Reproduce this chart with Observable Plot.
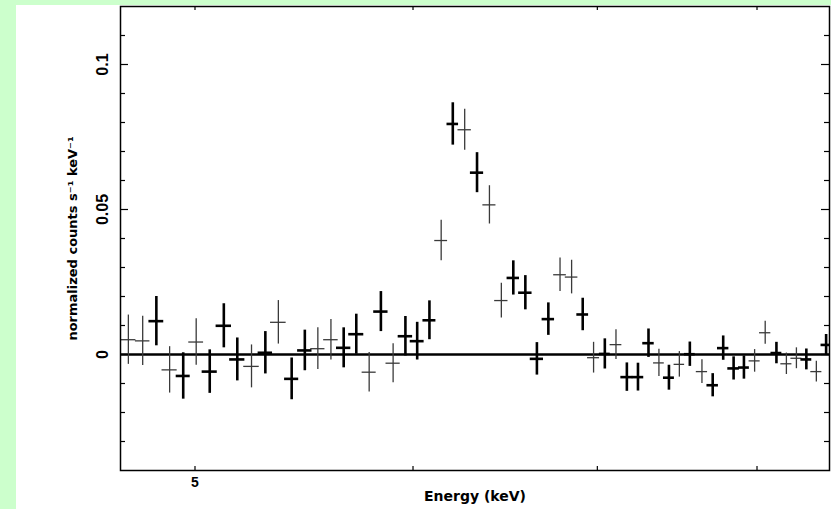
<!DOCTYPE html>
<html><head><meta charset="utf-8">
<script src="https://cdn.jsdelivr.net/npm/d3@7"></script>
<script src="https://cdn.jsdelivr.net/npm/@observablehq/plot@0.6"></script>
<style>
html,body{margin:0;padding:0;background:#ccffcc;width:831px;height:509px;overflow:hidden}
#panel{position:absolute;left:16px;top:5px;width:815px;height:504px;background:#fff}
svg{display:block}
</style></head><body><div id="panel"></div>
<script>
// Energy bin centres (keV), half-widths (keV), flux, 1-sigma error, dataset
const energy = [4.729,4.786,4.841,4.895,4.951,5.005,5.062,5.122,5.180,5.242,5.303,5.361,5.421,5.481,5.541,5.602,5.662,5.722,5.784,5.841,5.901,5.962,6.021,6.083,6.143,6.203,6.265,6.330,6.396,6.460,6.525,6.591,6.655,6.719,6.785,6.851,6.915,6.978,7.044,7.110,7.175,7.242,7.306,7.370,7.432,7.497,7.563,7.640,7.709,7.777,7.845,7.913,7.984,8.055,8.131,8.199,8.268,8.337,8.407,8.476];
const halfWidth = [0.030,0.029,0.030,0.031,0.029,0.031,0.032,0.033,0.033,0.034,0.032,0.035,0.032,0.033,0.033,0.034,0.034,0.036,0.034,0.035,0.035,0.036,0.035,0.033,0.033,0.030,0.035,0.035,0.035,0.036,0.034,0.037,0.037,0.035,0.036,0.036,0.034,0.035,0.032,0.035,0.036,0.035,0.035,0.033,0.034,0.033,0.034,0.036,0.037,0.037,0.038,0.036,0.037,0.038,0.037,0.038,0.038,0.038,0.039,0.036];
const flux = [0.0051,0.0047,0.0115,-0.0053,-0.0074,0.0043,-0.0059,0.0099,-0.0017,-0.0041,0.0006,0.0111,-0.0084,0.0014,0.0020,0.0051,0.0023,0.0070,-0.0061,0.0148,-0.0030,0.0063,0.0046,0.0118,0.0393,0.0795,0.0775,0.0627,0.0516,0.0186,0.0264,0.0213,-0.0015,0.0122,0.0275,0.0267,0.0138,-0.0011,0.0002,0.0034,-0.0078,-0.0078,0.0039,-0.0029,-0.0080,-0.0034,0.0001,-0.0059,-0.0106,0.0022,-0.0048,-0.0045,-0.0022,0.0075,0.0005,-0.0032,-0.0013,-0.0017,-0.0059,0.0033];
const fluxErr = [0.0085,0.0085,0.0085,0.0080,0.0080,0.0080,0.0075,0.0076,0.0074,0.0074,0.0073,0.0075,0.0072,0.0070,0.0072,0.0070,0.0069,0.0069,0.0068,0.0069,0.0067,0.0068,0.0065,0.0067,0.0070,0.0073,0.0071,0.0069,0.0066,0.0060,0.0059,0.0059,0.0056,0.0056,0.0058,0.0058,0.0056,0.0053,0.0052,0.0051,0.0049,0.0048,0.0049,0.0047,0.0043,0.0044,0.0042,0.0041,0.0040,0.0042,0.0040,0.0040,0.0039,0.0040,0.0037,0.0037,0.0036,0.0036,0.0036,0.0036];
const dataset = ["B","B","A","B","A","B","A","A","A","B","A","B","A","A","B","B","A","A","B","A","B","A","A","A","B","A","B","A","B","B","A","A","A","A","B","B","A","B","A","B","A","A","A","B","A","B","A","B","A","A","A","A","B","B","A","B","B","A","B","A"];

const xMajorTicks = [5, 6, 7, 8];
const xTickLabels = [5];
const yTickLabels = [0, 0.05, 0.1];
const yMinorTicks = [-0.03,-0.02,-0.01,0.01,0.02,0.03,0.04,0.06,0.07,0.08,0.09,0.11];
const xLabel = "Energy (keV)";
const yLabel = "normalized counts s\u207B\u00B9 keV\u207B\u00B9";

const W = 815, H = 504, mL = 104, mR = 2, mT = 1, mB = 39;
const pw = W - mL - mR, ph = H - mT - mB;

const rows = energy.map((e, i) => ({e, hw: halfWidth[i], v: flux[i], err: fluxErr[i], set: dataset[i]}));
const style = {A: {stroke: "#000", sw: 2.6}, B: {stroke: "#3a3a3a", sw: 1.3}};

function errBars(set) {
  const data = rows.filter(d => d.set === set);
  const s = style[set];
  return [
    Plot.ruleX(data, {x: "e", y1: d => d.v - d.err, y2: d => d.v + d.err, stroke: s.stroke, strokeWidth: s.sw, clip: true}),
    Plot.ruleY(data, {y: "v", x1: d => d.e - d.hw, x2: d => d.e + d.hw, stroke: s.stroke, strokeWidth: s.sw, clip: true})
  ];
}
const font = {fontFamily: "DejaVu Sans", fontWeight: "bold", fill: "#000"};
const tickFont = {fontFamily: "Liberation Sans", fontWeight: "bold", fill: "#000"};

const chart = Plot.plot({
  width: W, height: H,
  marginLeft: mL, marginRight: mR, marginTop: mT, marginBottom: mB,
  x: {type: "log", domain: [4.698, 8.5], axis: null},
  y: {domain: [-0.04, 0.12], axis: null},
  style: {background: "transparent", overflow: "visible"},
  marks: [
    Plot.ruleY([0], {stroke: "#000", strokeWidth: 2.6}),
    ...errBars("B"),
    ...errBars("A"),
    // inward ticks, left & right
    Plot.tickY(yMinorTicks, {y: d => d, insetRight: pw - 5, stroke: "#000", strokeWidth: 1.2}),
    Plot.tickY(yTickLabels, {y: d => d, insetRight: pw - 8, stroke: "#000", strokeWidth: 1.2}),
    Plot.tickY(yMinorTicks, {y: d => d, insetLeft: pw - 5, stroke: "#000", strokeWidth: 1.2}),
    Plot.tickY(yTickLabels, {y: d => d, insetLeft: pw - 8, stroke: "#000", strokeWidth: 1.2}),
    // inward ticks, bottom & top
    Plot.tickX(xMajorTicks, {x: d => d, insetTop: ph - 4, stroke: "#000", strokeWidth: 1.2}),
    Plot.tickX(xMajorTicks, {x: d => d, insetBottom: ph - 4, stroke: "#000", strokeWidth: 1.2}),
    Plot.frame({stroke: "#000", strokeWidth: 1.5}),
    // tick labels
    Plot.text(yTickLabels, {y: d => d, text: d => String(d), frameAnchor: "left", textAnchor: "middle", dx: -18, rotate: -90, fontSize: 16, ...tickFont}),
    Plot.text(xTickLabels, {x: d => d, text: d => String(d), frameAnchor: "bottom", dy: 16, fontSize: 14, ...tickFont}),
    // axis labels
    Plot.text([xLabel], {text: d => d, frameAnchor: "bottom", textAnchor: "middle", dy: 30, fontSize: 14, ...font}),
    Plot.text([yLabel], {text: d => d, frameAnchor: "left", textAnchor: "middle", dx: -48, rotate: -90, fontSize: 13, ...font})
  ]
});
document.getElementById("panel").appendChild(chart);
</script>
</body></html>
